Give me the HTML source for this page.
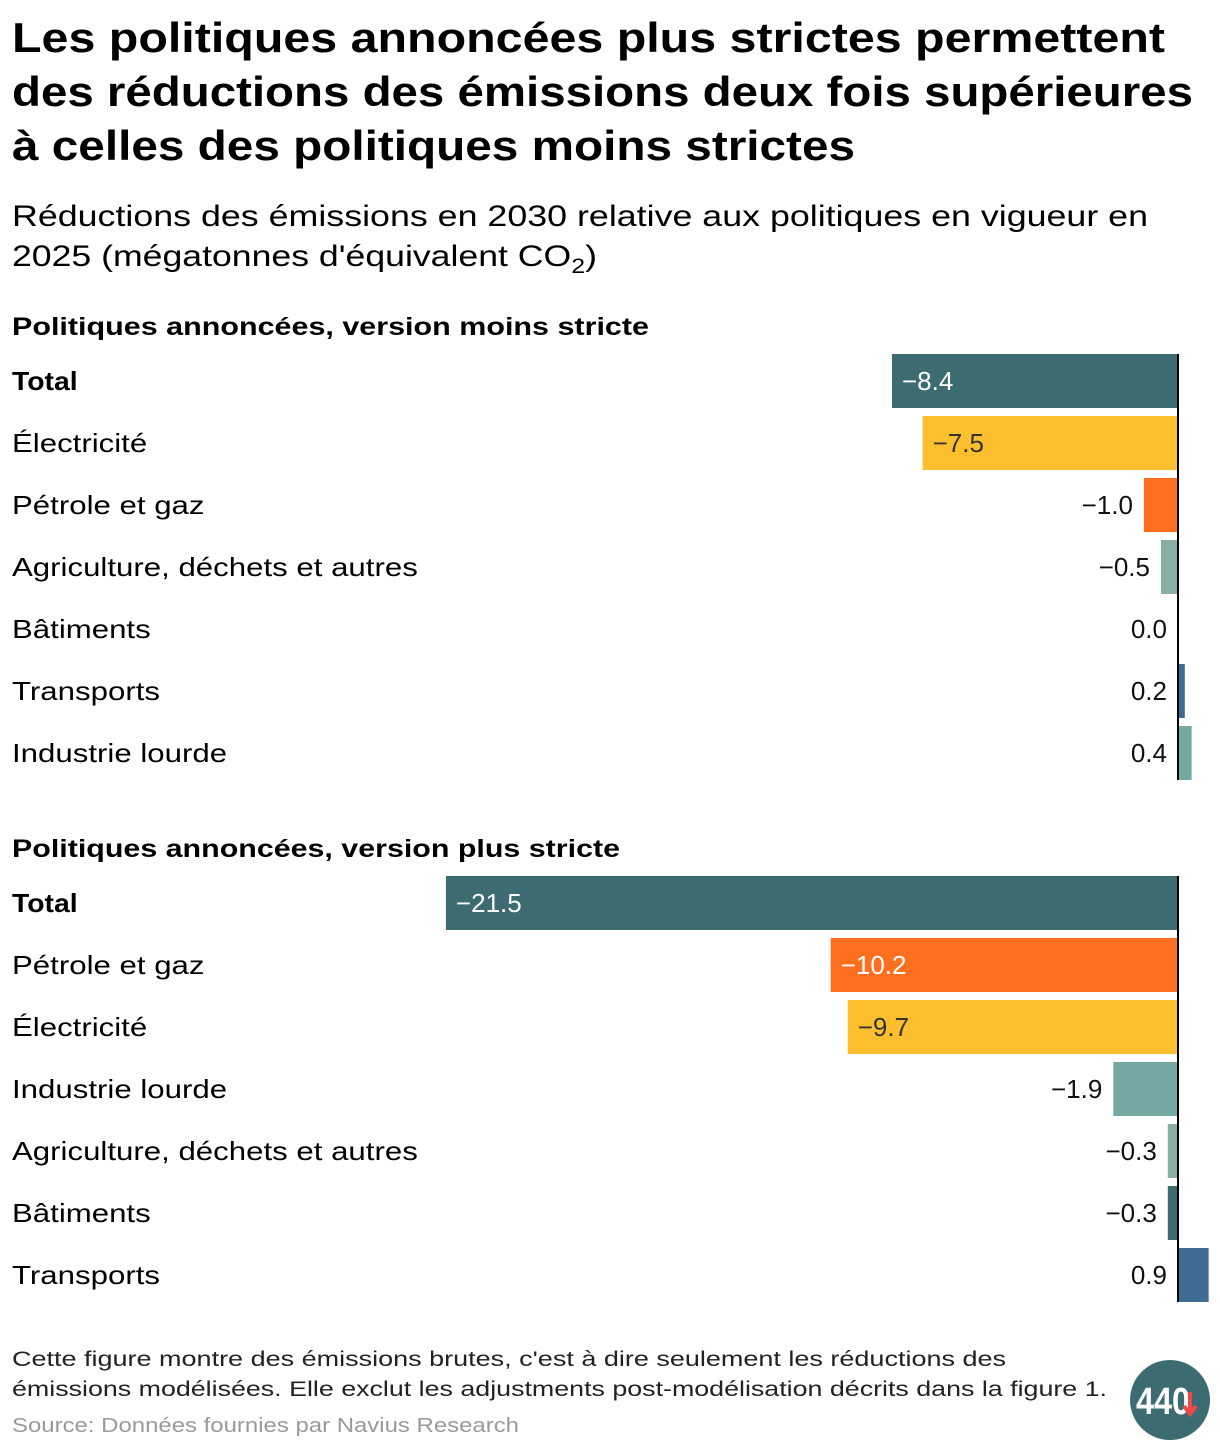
<!DOCTYPE html>
<html><head><meta charset="utf-8">
<style>
body{margin:0;background:#fff;width:1220px;height:1452px;overflow:hidden;font-family:"Liberation Sans",sans-serif;color:#000;position:relative}
svg{position:absolute;left:0;top:0}
</style></head><body>
<svg width="1220" height="1452" id="chart" font-family="Liberation Sans, sans-serif">
<g>
<text x="12" y="52" font-size="42" font-weight="bold" textLength="1153" lengthAdjust="spacingAndGlyphs">Les politiques annoncées plus strictes permettent</text>
<text x="12" y="106" font-size="42" font-weight="bold" textLength="1181" lengthAdjust="spacingAndGlyphs">des réductions des émissions deux fois supérieures</text>
<text x="12" y="160" font-size="42" font-weight="bold" textLength="843" lengthAdjust="spacingAndGlyphs">à celles des politiques moins strictes</text>
</g>
<g>
<text x="12" y="226" font-size="30" textLength="1136" lengthAdjust="spacingAndGlyphs">Réductions des émissions en 2030 relative aux politiques en vigueur en</text>
<text x="12" y="266" font-size="30" textLength="585" lengthAdjust="spacingAndGlyphs">2025 (mégatonnes d'équivalent CO<tspan dy="7" font-size="21">2</tspan><tspan dy="-7">)</tspan></text>
</g>
<text x="12" y="335" font-size="25" font-weight="bold" textLength="637" lengthAdjust="spacingAndGlyphs">Politiques annoncées, version moins stricte</text>
<text x="12" y="857" font-size="25" font-weight="bold" textLength="608" lengthAdjust="spacingAndGlyphs">Politiques annoncées, version plus stricte</text>
<g fill="#222">
<text x="12" y="1366" font-size="21" textLength="994" lengthAdjust="spacingAndGlyphs">Cette figure montre des émissions brutes, c'est à dire seulement les réductions des</text>
<text x="12" y="1396" font-size="21" textLength="1095" lengthAdjust="spacingAndGlyphs">émissions modélisées. Elle exclut les adjustments post-modélisation décrits dans la figure 1.</text>
</g>
<text x="12" y="1432" font-size="20" fill="#9a9a9a" textLength="507" lengthAdjust="spacingAndGlyphs">Source: Données fournies par Navius Research</text>
<g>
<circle cx="1170" cy="1400" r="40" fill="#3d6b72"/>
<text x="1136" y="1414" font-size="38" font-weight="bold" fill="#fff" textLength="54" lengthAdjust="spacingAndGlyphs">440</text>
<path d="M1190 1392v20M1184 1406l6 8 6-8" stroke="#f04848" stroke-width="4" fill="none"/>
</g>
</svg>
<script>
const cats1=["Total","Électricité","Pétrole et gaz","Agriculture, déchets et autres","Bâtiments","Transports","Industrie lourde"];
const vals1=[-8.4,-7.5,-1.0,-0.5,0.0,0.2,0.4];
const cats2=["Total","Pétrole et gaz","Électricité","Industrie lourde","Agriculture, déchets et autres","Bâtiments","Transports"];
const vals2=[-21.5,-10.2,-9.7,-1.9,-0.3,-0.3,0.9];
const colorMap={"Total":"#3d6b72","Électricité":"#fdbf2d","Pétrole et gaz":"#ff6f1f","Agriculture, déchets et autres":"#88afa5","Bâtiments":"#3d6b72","Transports":"#3f6a92","Industrie lourde":"#74a8a3"};
const NS="http://www.w3.org/2000/svg";
const svg=document.getElementById('chart');
const x0=1178, k=34.05;
function xs(v){return x0+v*k;}
function mk(t,a){const e=document.createElementNS(NS,t);for(const q in a)e.setAttribute(q,a[q]);svg.appendChild(e);return e;}
function panel(cats,vals,top,id){
  cats.forEach((c,i)=>{
    const y=top+i*62, v=vals[i];
    const lab=mk('text',{x:12,y:y+36,'font-size':26,'font-weight':c==='Total'?'bold':'normal'});
    lab.textContent=c;
    
    
    const wl=lab.getComputedTextLength();
    lab.setAttribute('textLength',(wl*(c==='Total'?1.09:1.2)).toFixed(1));
    lab.setAttribute('lengthAdjust','spacingAndGlyphs');
    const x1=Math.min(xs(v),x0), w=Math.abs(xs(v)-x0);
    const r=mk('rect',{x:x1,y:y,width:w,height:54,fill:colorMap[c]});
    
    
    const txt=(v<0?'−':'')+Math.abs(v).toFixed(1);
    let vl;
    if(w>150){
      vl=mk('text',{x:x1+10,y:y+36,'font-size':26,fill:(c==='Électricité')?'#333':'#fff'});
    }else{
      vl=mk('text',{x:(v<0?x1:x0)-11,y:y+36,'font-size':26,'text-anchor':'end',fill:'#111'});
    }
    vl.textContent=txt;
    
    
  });
  const ax=mk('line',{x1:x0,x2:x0,y1:top,y2:top+cats.length*62-8,stroke:'#000','stroke-width':2});
  
  
}
panel(cats1,vals1,354,'less');
panel(cats2,vals2,876,'more');
</script>
</body></html>
